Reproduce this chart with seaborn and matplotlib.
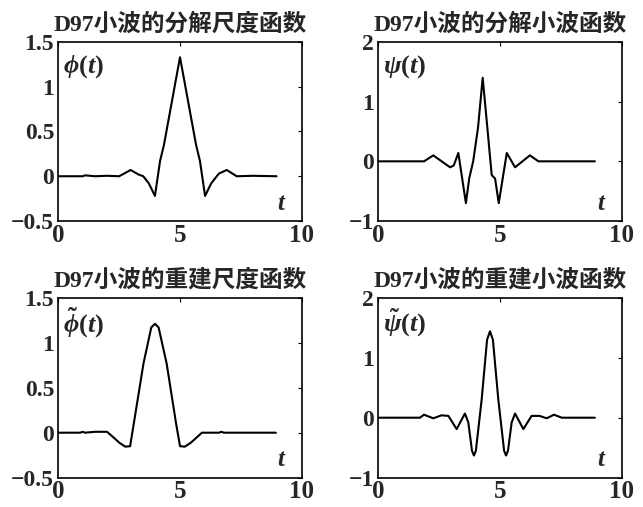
import matplotlib
matplotlib.use("Agg")
import matplotlib.pyplot as plt
import seaborn as sns

# ---- data ----
phi_t = [0, 1.0, 1.1, 1.5, 2.0, 2.5, 2.97, 3.29, 3.49, 3.72, 3.97, 4.18, 4.34, 5.0,
         5.66, 5.82, 6.03, 6.28, 6.51, 6.6, 6.92, 7.33, 8.0, 8.97]
phi_y = [0, 0, 0.01, 0, 0.005, 0, 0.07, 0.02, 0.0, -0.08, -0.22, 0.17, 0.35, 1.33,
         0.35, 0.17, -0.22, -0.08, 0.0, 0.03, 0.07, 0.0, 0.005, 0]

psi_t = [0, 1.88, 2.26, 2.95, 3.1, 3.29, 3.6, 3.74, 3.9, 4.1, 4.29, 4.48, 4.66,
         4.8, 4.95, 5.28, 5.62, 6.23, 6.58, 8.9]
psi_y = [0, 0, 0.1, -0.1, -0.07, 0.14, -0.7, -0.28, 0.0, 0.57, 1.40, 0.57, -0.23,
         -0.29, -0.7, 0.14, -0.1, 0.1, 0, 0]

phit_t = [0, 0.9, 1.0, 1.1, 1.5, 2.0, 2.3, 2.5, 2.75, 2.95, 3.1, 3.5, 3.82, 3.97,
          4.12, 4.45, 4.84, 5.0, 5.2, 5.45, 5.9, 6.6, 6.7, 6.8, 8.94]
phit_y = [0, 0, 0.01, 0, 0.01, 0.01, -0.06, -0.11, -0.155, -0.15, 0.1, 0.77, 1.17,
          1.21, 1.17, 0.77, 0.1, -0.15, -0.155, -0.11, 0.0, 0.0, 0.01, 0, 0]

psit_t = [0, 1.71, 1.88, 2.26, 2.6, 2.88, 3.22, 3.56, 3.7, 3.85, 3.93, 4.01, 4.25,
          4.47, 4.59, 4.71, 4.93, 5.17, 5.25, 5.33, 5.48, 5.62, 5.96, 6.30, 6.63,
          6.92, 7.22, 7.54, 8.9]
psit_y = [0, 0, 0.05, -0.01, 0.04, 0.03, -0.19, 0.07, -0.08, -0.55, -0.63, -0.55,
          0.31, 1.3, 1.44, 1.3, 0.31, -0.55, -0.63, -0.55, -0.08, 0.07, -0.19, 0.03,
          0.03, -0.01, 0.05, 0, 0]

titles = ["D97小波的分解尺度函数", "D97小波的分解小波函数",
          "D97小波的重建尺度函数", "D97小波的重建小波函数"]
labels = [r"$\phi(t)$", r"$\psi(t)$", r"$\tilde{\phi}(t)$", r"$\tilde{\psi}(t)$"]
yticks_scale = [-0.5, 0, 0.5, 1, 1.5]
yticks_wave = [-1, 0, 1, 2]
xticks = [0, 5, 10]

sns.set_theme(style="white")
plt.rcParams["font.family"] = ["Liberation Serif", "Noto Sans CJK SC"]
plt.rcParams["font.weight"] = "bold"
plt.rcParams["mathtext.fontset"] = "custom"
plt.rcParams["mathtext.it"] = "Liberation Serif:italic:bold"
plt.rcParams["mathtext.rm"] = "Liberation Serif:bold"
plt.rcParams["mathtext.bf"] = "Liberation Serif:bold"
plt.rcParams["axes.unicode_minus"] = False

fig = plt.figure(figsize=(6.43, 5.07), dpi=100)
boxes = [[0.0907, 0.5641, 0.3785, 0.3531],
         [0.5883, 0.5641, 0.3785, 0.3531],
         [0.0907, 0.0578, 0.3785, 0.3550],
         [0.5883, 0.0578, 0.3785, 0.3550]]
series = [(phi_t, phi_y), (psi_t, psi_y), (phit_t, phit_y), (psit_t, psit_y)]

for i, (box, (tt, yy)) in enumerate(zip(boxes, series)):
    ax = fig.add_axes(box)
    sns.lineplot(x=tt, y=yy, ax=ax, color="black", linewidth=1.5, estimator=None)
    ax.set_xlim(0, 10)
    if i % 2 == 0:
        ax.set_ylim(-0.5, 1.5)
        ax.set_yticks(yticks_scale)
        ax.set_yticklabels(["−0.5", "0", "0.5", "1", "1.5"])
    else:
        ax.set_ylim(-1, 2)
        ax.set_yticks(yticks_wave)
        ax.set_yticklabels(["−1", "0", "1", "2"])
    ax.set_xticks(xticks)
    ax.set_xticklabels([str(x) for x in xticks])
    ax.tick_params(axis="both", direction="in", length=3, width=0.8,
                   top=True, right=True, color="black")
    ax.tick_params(axis="x", labelsize=18, pad=2)
    ax.tick_params(axis="y", labelsize=17, pad=3)
    for s in ax.spines.values():
        s.set_color("black")
        s.set_linewidth(1.2)
    ax.set_title(titles[i], fontsize=17, fontweight="bold", pad=8)
    ax.text(0.02, 0.86, labels[i], transform=ax.transAxes, fontsize=19,
            va="center", ha="left")
    ax.text(0.92, 0.1, "$t$", transform=ax.transAxes, fontsize=18,
            va="center", ha="center")

fig.savefig("out.png", dpi=100)
